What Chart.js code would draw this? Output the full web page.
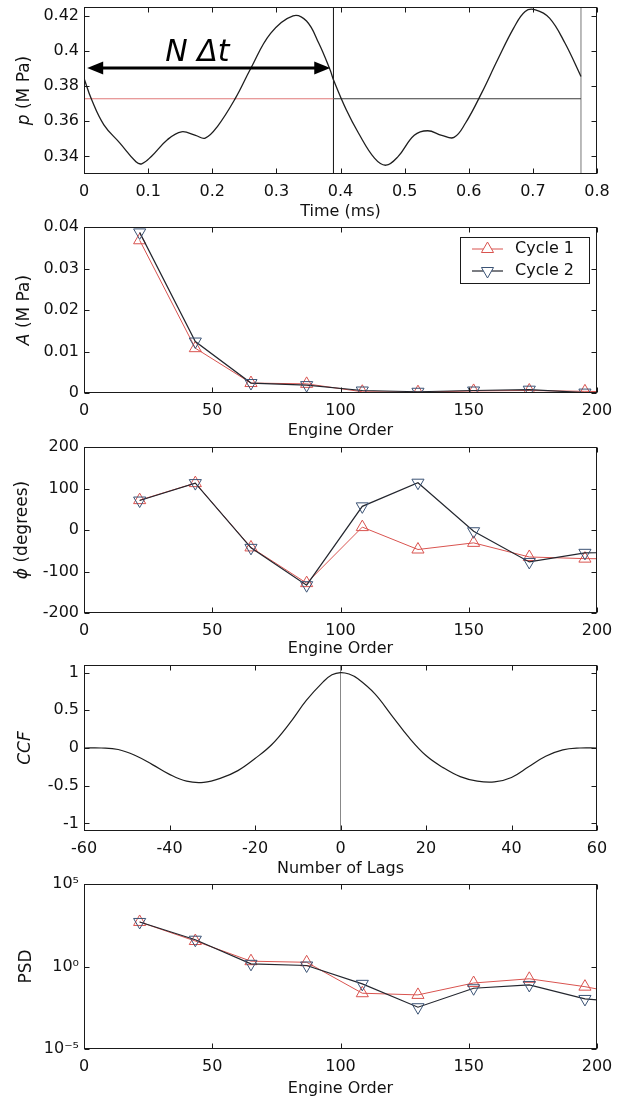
<!DOCTYPE html>
<html><head><meta charset="utf-8">
<script src="https://cdn.jsdelivr.net/npm/chart.js@4.4.1/dist/chart.umd.min.js"></script>
<style>
html,body{margin:0;padding:0;background:#fff;width:624px;height:1102px;overflow:hidden;position:relative;}
canvas{position:absolute;left:0;}
</style></head><body>
<canvas id="c1"></canvas>
<canvas id="c2"></canvas>
<canvas id="c3"></canvas>
<canvas id="c4"></canvas>
<canvas id="c5"></canvas>
<script>
// ---------- DATA ----------
// Panel 1: pressure trace
const TIME_MS = [0.000, 0.012, 0.031, 0.056, 0.081, 0.090, 0.105, 0.130, 0.152, 0.174, 0.189, 0.208, 0.236, 0.260, 0.291, 0.326, 0.347, 0.366, 0.384, 0.389, 0.409, 0.428, 0.453, 0.471, 0.490, 0.515, 0.536, 0.558, 0.577, 0.595, 0.620, 0.645, 0.670, 0.688, 0.704, 0.726, 0.750, 0.775];
const PRESSURE_MPA = [0.3845, 0.3722, 0.3580, 0.3476, 0.3370, 0.3358, 0.3400, 0.3495, 0.3540, 0.3520, 0.3504, 0.3570, 0.3730, 0.3900, 0.4100, 0.4200, 0.4170, 0.4045, 0.3890, 0.3836, 0.3665, 0.3533, 0.3390, 0.3350, 0.3400, 0.3520, 0.3546, 0.3520, 0.3508, 0.3590, 0.3760, 0.3950, 0.4130, 0.4225, 0.4234, 0.4187, 0.4045, 0.3855];
const PERIOD_MARKS_T = [0.389, 0.775];
const MEAN_PRESSURE = 0.3728;
const ARROW_T = [0.005, 0.384];
const ARROW_P = 0.3903;
const ARROW_LABEL = 'N Δt';
const ARROW_LABEL_POS = [0.177, 0.399];
const P1_X_TICKS = [0, 0.1, 0.2, 0.3, 0.4, 0.5, 0.6, 0.7, 0.8];
const P1_Y_TICKS = [0.34, 0.36, 0.38, 0.40, 0.42];
const P1_Y_RANGE = [0.33, 0.425];

// Panels 2,3,5: harmonic analysis per engine order
const ENGINE_ORDER = [21.7, 43.4, 65.1, 86.8, 108.5, 130.2, 151.9, 173.6, 195.3, 217.0];
const AMP_CYCLE1 = [0.0368, 0.0108, 0.0024, 0.0022, 0.0003, 0.0002, 0.0005, 0.0006, 0.0004, 0.0002];
const AMP_CYCLE2 = [0.0387, 0.0124, 0.0024, 0.0019, 0.0006, 0.0003, 0.0006, 0.0008, 0.0001, 0.0001];
const PHASE_CYCLE1 = [72, 113, -42, -128, 7, -47, -31, -65, -69, -70];
const PHASE_CYCLE2 = [71, 113, -43, -133, 57, 114, -3, -77, -55, -54];
const PSD_CYCLE1 = [500, 35, 2.1, 1.8, 0.024, 0.019, 0.10, 0.18, 0.06, 0.0135];
const PSD_CYCLE2 = [500, 42, 1.45, 1.15, 0.089, 0.0034, 0.048, 0.076, 0.0108, 0.0056];
const SERIES_NAMES = ['Cycle 1', 'Cycle 2'];
const EO_TICKS = [0, 50, 100, 150, 200];
const AMP_TICKS = [0, 0.01, 0.02, 0.03, 0.04];
const PHASE_TICKS = [-200, -100, 0, 100, 200];
const PSD_TICKS = [1e-5, 1, 1e5];

// Panel 4: cross-correlation
const LAGS = [-60, -56, -52, -48, -44, -40, -36, -32, -28, -24, -20, -16, -12, -8, -4, -2, 0, 2, 4, 8, 12, 16, 20, 24, 28, 32, 36, 40, 44, 48, 52, 56, 60];
const CCF = [0.00, 0.00, -0.02, -0.10, -0.22, -0.35, -0.44, -0.455, -0.40, -0.30, -0.14, 0.05, 0.32, 0.63, 0.88, 0.97, 1.00, 0.98, 0.92, 0.72, 0.43, 0.14, -0.10, -0.26, -0.38, -0.44, -0.45, -0.39, -0.25, -0.11, -0.025, 0.00, 0.00];
const LAG_TICKS = [-60, -40, -20, 0, 20, 40, 60];
const CCF_TICKS = [-1, -0.5, 0, 0.5, 1];
const CCF_RANGE = [-1.1, 1.1];

// ---------- STYLE / LAYOUT ----------
const FONT = '"DejaVu Sans", sans-serif';
const PLOT_LEFT = 84, PLOT_RIGHT = 597, PAD_TOP = 16, XAXIS_H = 50, TICK_LEN = 5;
const RED = '#d9534f', C2_LINE = '#23262e', C2_MARK = '#3b5375';
Chart.defaults.font.family = FONT;
Chart.defaults.font.size = 16;
Chart.defaults.color = '#111';

const zip = (xs, ys) => xs.map((x, i) => ({x, y: ys[i]}));
const fmt = v => String(Number(v.toFixed(4)));
const SUP = {'-': '⁻', '0': '⁰', '1': '¹', '2': '²', '3': '³', '4': '⁴', '5': '⁵', '6': '⁶', '7': '⁷', '8': '⁸', '9': '⁹'};
const fmtPow = v => '10' + String(Math.round(Math.log10(v))).split('').map(c => SUP[c]).join('');

function triPath(ctx, x, y, r, down) {
  const s = down ? -1 : 1;
  ctx.beginPath();
  ctx.moveTo(x, y - s * r);
  ctx.lineTo(x + r * Math.sin(2 * Math.PI / 3), y + s * r * 0.5);
  ctx.lineTo(x - r * Math.sin(2 * Math.PI / 3), y + s * r * 0.5);
  ctx.closePath();
}

const framePlugin = {
  id: 'frame',
  afterDraw(chart) {
    const {ctx, chartArea: a, scales} = chart;
    const L = Math.round(a.left) + 0.5, R = Math.round(a.right) - 0.5, T = Math.round(a.top) + 0.5, B = Math.round(a.bottom) - 0.5;
    ctx.save();
    ctx.strokeStyle = '#1a1a1a'; ctx.lineWidth = 1;
    ctx.beginPath();
    for (const t of scales.x.ticks) {
      const px = Math.round(scales.x.getPixelForValue(t.value)) + 0.5;
      ctx.moveTo(px, B); ctx.lineTo(px, B - TICK_LEN);
      ctx.moveTo(px, T); ctx.lineTo(px, T + TICK_LEN);
    }
    for (const t of scales.y.ticks) {
      const py = Math.round(scales.y.getPixelForValue(t.value)) + 0.5;
      ctx.moveTo(L, py); ctx.lineTo(L + TICK_LEN, py);
      ctx.moveTo(R, py); ctx.lineTo(R - TICK_LEN, py);
    }
    ctx.stroke();
    ctx.strokeRect(L, T, R - L, B - T);
    ctx.restore();
  }
};

const yTitlePlugin = {
  id: 'ytitle',
  afterDraw(chart, args, opts) {
    if (!opts || !opts.segments) return;
    const {ctx, chartArea: a} = chart;
    ctx.save();
    ctx.translate(opts.x, (a.top + a.bottom) / 2);
    ctx.rotate(-Math.PI / 2);
    ctx.textBaseline = 'middle';
    ctx.fillStyle = '#111';
    let total = 0;
    const f = s => (s.italic ? 'italic ' : '') + '17px ' + FONT;
    const widths = opts.segments.map(s => { ctx.font = f(s); const w = ctx.measureText(s.text).width; total += w; return w; });
    let cx = -total / 2;
    opts.segments.forEach((s, i) => { ctx.font = f(s); ctx.textAlign = 'left'; ctx.fillText(s.text, cx, 0); cx += widths[i]; });
    ctx.restore();
  }
};

const legendBoxPlugin = {
  id: 'legendbox',
  afterDraw(chart, args, opts) {
    if (!opts || !opts.show) return;
    const {ctx, chartArea: a} = chart;
    const items = chart.data.datasets.filter(d => d.label);
    const w = 129, rowH = 22, h = 2 + rowH * items.length;
    const bx = a.right - 8 - w, by = a.top + 10;
    ctx.save();
    ctx.fillStyle = '#fff';
    ctx.fillRect(bx, by, w, h);
    ctx.strokeStyle = '#1a1a1a'; ctx.lineWidth = 1;
    ctx.strokeRect(Math.round(bx) + 0.5, Math.round(by) + 0.5, w, h);
    ctx.font = '16px ' + FONT; ctx.textBaseline = 'middle'; ctx.textAlign = 'left';
    items.forEach((d, i) => {
      const y = by + 12 + i * rowH;
      ctx.strokeStyle = d.borderColor; ctx.lineWidth = d.borderWidth;
      ctx.beginPath(); ctx.moveTo(bx + 12, y); ctx.lineTo(bx + 43, y); ctx.stroke();
      ctx.strokeStyle = d.pointBorderColor; ctx.lineWidth = 1;
      triPath(ctx, bx + 27.5, y, d.pointRadius, d.pointRotation === 180);
      ctx.fillStyle = '#fff'; ctx.fill(); ctx.stroke();
      ctx.fillStyle = '#111';
      ctx.fillText(d.label, bx + 55, y);
    });
    ctx.restore();
  }
};

const arrowPlugin = {
  id: 'arrowNote',
  afterDatasetsDraw(chart, args, opts) {
    if (!opts || !opts.show) return;
    const {ctx, scales: {x, y}} = chart;
    const x0 = x.getPixelForValue(ARROW_T[0]), x1 = x.getPixelForValue(ARROW_T[1]), py = y.getPixelForValue(ARROW_P);
    const hl = 16, hw = 6.5;
    ctx.save();
    ctx.strokeStyle = '#000'; ctx.fillStyle = '#000'; ctx.lineWidth = 3;
    ctx.beginPath(); ctx.moveTo(x0 + hl - 2, py); ctx.lineTo(x1 - hl + 2, py); ctx.stroke();
    ctx.beginPath(); ctx.moveTo(x0, py); ctx.lineTo(x0 + hl, py - hw); ctx.lineTo(x0 + hl, py + hw); ctx.closePath(); ctx.fill();
    ctx.beginPath(); ctx.moveTo(x1, py); ctx.lineTo(x1 - hl, py - hw); ctx.lineTo(x1 - hl, py + hw); ctx.closePath(); ctx.fill();
    ctx.font = 'italic 30px ' + FONT; ctx.textAlign = 'center'; ctx.textBaseline = 'middle';
    ctx.fillText(ARROW_LABEL, x.getPixelForValue(ARROW_LABEL_POS[0]), y.getPixelForValue(ARROW_LABEL_POS[1]));
    ctx.restore();
  }
};

function panel(id, top, bottom, o) {
  const cv = document.getElementById(id);
  const h = (bottom - top) + PAD_TOP + XAXIS_H;
  cv.width = 624; cv.height = h;
  cv.style.top = (top - PAD_TOP) + 'px';
  cv.style.width = '624px'; cv.style.height = h + 'px';
  return new Chart(cv, {
    type: 'line',
    data: {datasets: o.datasets},
    options: {
      responsive: false, animation: false, devicePixelRatio: 1,
      layout: {padding: {top: PAD_TOP, right: 624 - PLOT_RIGHT, left: 0, bottom: 0}},
      plugins: {
        legend: {display: false}, tooltip: {enabled: false},
        ytitle: {segments: o.yTitle, x: o.yTitleX || 25},
        legendbox: {show: !!o.legend},
        arrowNote: {show: !!o.arrow}
      },
      scales: {
        x: {
          type: 'linear', position: 'bottom', min: o.xRange[0], max: o.xRange[1],
          afterBuildTicks: s => { s.ticks = o.xTicks.map(v => ({value: v})); },
          afterFit: s => { s.height = XAXIS_H; },
          grid: {display: false, drawTicks: false}, border: {display: false},
          ticks: {padding: 8, autoSkip: false, maxRotation: 0, callback: v => fmt(v)},
          title: {display: true, text: o.xTitle, padding: {top: 0, bottom: o.xTitlePad}, font: {size: 16}}
        },
        y: {
          type: o.yType || 'linear', position: 'left', min: o.yRange[0], max: o.yRange[1],
          afterBuildTicks: s => { s.ticks = o.yTicks.map(v => ({value: v})); },
          afterFit: s => { s.width = PLOT_LEFT; },
          grid: {display: false, drawTicks: false}, border: {display: false},
          ticks: {padding: 5, autoSkip: false, callback: o.yFmt || (v => fmt(v))}
        }
      }
    },
    plugins: [framePlugin, yTitlePlugin, legendBoxPlugin, arrowPlugin]
  });
}

function cycleSets(v1, v2) {
  return [
    {label: SERIES_NAMES[0], data: zip(ENGINE_ORDER, v1), borderColor: RED, borderWidth: 1, pointStyle: 'triangle', pointRotation: 0, pointRadius: 7, pointBorderColor: RED, pointBackgroundColor: 'rgba(255,255,255,0)', pointBorderWidth: 1, tension: 0, order: 1},
    {label: SERIES_NAMES[1], data: zip(ENGINE_ORDER, v2), borderColor: C2_LINE, borderWidth: 1.2, pointStyle: 'triangle', pointRotation: 180, pointRadius: 7, pointBorderColor: C2_MARK, pointBackgroundColor: 'rgba(255,255,255,0)', pointBorderWidth: 1, tension: 0, order: 0}
  ];
}

// Panel 1
panel('c1', 7, 174, {
  xRange: [0, 0.8], yRange: P1_Y_RANGE, xTicks: P1_X_TICKS, yTicks: P1_Y_TICKS,
  xTitle: 'Time (ms)', xTitlePad: 3, yTitle: [{text: 'p', italic: true}, {text: ' (M Pa)'}], arrow: true,
  datasets: [
    {data: zip(TIME_MS, PRESSURE_MPA), borderColor: '#1e1e1e', borderWidth: 1.3, pointRadius: 0, tension: 0.4},
    {data: [{x: 0, y: MEAN_PRESSURE}, {x: PERIOD_MARKS_T[0], y: MEAN_PRESSURE}], borderColor: '#e07a7a', borderWidth: 1, pointRadius: 0},
    {data: [{x: PERIOD_MARKS_T[0], y: MEAN_PRESSURE}, {x: PERIOD_MARKS_T[1], y: MEAN_PRESSURE}], borderColor: '#3a3a3a', borderWidth: 1, pointRadius: 0},
    {data: [{x: PERIOD_MARKS_T[0], y: P1_Y_RANGE[0]}, {x: PERIOD_MARKS_T[0], y: P1_Y_RANGE[1]}], borderColor: '#111', borderWidth: 1, pointRadius: 0},
    {data: [{x: PERIOD_MARKS_T[1], y: P1_Y_RANGE[0]}, {x: PERIOD_MARKS_T[1], y: P1_Y_RANGE[1]}], borderColor: '#777', borderWidth: 1, pointRadius: 0}
  ]
});

// Panel 2
panel('c2', 227, 393, {
  xRange: [0, 200], yRange: [0, 0.04], xTicks: EO_TICKS, yTicks: AMP_TICKS,
  xTitle: 'Engine Order', xTitlePad: 2.5, yTitle: [{text: 'A', italic: true}, {text: ' (M Pa)'}], legend: true,
  datasets: cycleSets(AMP_CYCLE1, AMP_CYCLE2)
});

// Panel 3
panel('c3', 447, 613, {
  xRange: [0, 200], yRange: [-200, 200], xTicks: EO_TICKS, yTicks: PHASE_TICKS,
  xTitle: 'Engine Order', xTitlePad: 4.5, yTitle: [{text: 'ϕ', italic: true}, {text: ' (degrees)'}], yTitleX: 23,
  datasets: cycleSets(PHASE_CYCLE1, PHASE_CYCLE2)
});

// Panel 4
panel('c4', 665, 831, {
  xRange: [-60, 60], yRange: CCF_RANGE, xTicks: LAG_TICKS, yTicks: CCF_TICKS,
  xTitle: 'Number of Lags', xTitlePad: 2.5, yTitle: [{text: 'CCF', italic: true}], yTitleX: 26,
  datasets: [
    {data: zip(LAGS, CCF), borderColor: '#1e1e1e', borderWidth: 1.2, pointRadius: 0, tension: 0.4},
    {data: [{x: 0, y: CCF_RANGE[0]}, {x: 0, y: CCF_RANGE[1]}], borderColor: '#888', borderWidth: 1, pointRadius: 0}
  ]
});

// Panel 5
panel('c5', 884, 1049, {
  xRange: [0, 200], yRange: [1e-5, 1e5], yType: 'logarithmic', xTicks: EO_TICKS, yTicks: PSD_TICKS, yFmt: v => fmtPow(v),
  xTitle: 'Engine Order', xTitlePad: 0.5, yTitle: [{text: 'PSD'}], yTitleX: 27,
  datasets: cycleSets(PSD_CYCLE1, PSD_CYCLE2)
});
</script>
</body></html>
